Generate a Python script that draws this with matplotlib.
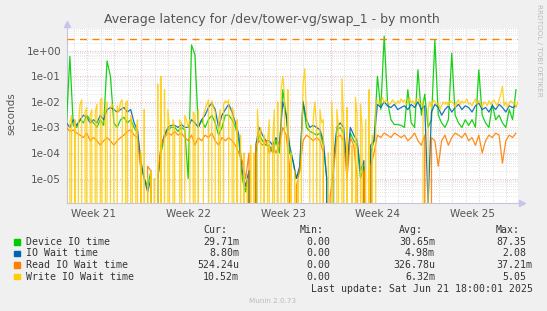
import numpy as np
import matplotlib
matplotlib.use("Agg")
import matplotlib.pyplot as plt
from matplotlib.patches import Rectangle

# Munin "by month" latency graph, values in seconds.
# device / io / read: one sample every 6 hours, write: one sample every 3 hours
device_io = [
    1.5e-3, 6e-1, 1.2e-3, 1e-3,   2e-3, 1.5e-3, 3e-3, 2e-3,   1.5e-3, 1e-3, 2e-3, 1.2e-3,
    4e-1, 1e-1, 1.5e-3, 1e-3,     2e-3, 2.5e-3, 1.5e-3, 2e-3, 1e-3, 6e-4, 3e-5, 1e-5,
    5e-6, 2e-5, 0, 1e-5,          1e-4, 5e-4, 8e-4, 1e-3,     1e-3, 7e-4, 1e-3, 8e-4,
    1e-5, 1.7, 7e-1, 1e-3,        2e-3, 1e-3, 2e-3, 3e-3,     1.5e-3, 5e-4, 1e-3, 3e-3,
    3e-3, 2e-3, 1e-3, 3e-4,       1e-5, 3e-6, 2e-5, 0,        1e-4, 5e-4, 3e-4, 2e-4,
    2e-4, 1e-4, 3e-4, 1e-4,       3e-2, 3e-3, 1e-4, 5e-5,     1e-5, 2e-5, 1e-2, 1e-3,
    7e-4, 6e-4, 5e-4, 6e-4,       2e-4, 1e-5, 0, 3e-5,        8e-4, 1e-3, 6e-4, 2e-5,
    6e-4, 3e-4, 2e-4, 1e-5,       3e-5, 0, 1e-4, 3e-4,        1e-1, 5e-3, 3.7, 1e-2,
    2e-3, 1.3e-3, 1.3e-3, 1.2e-3, 1e-3, 3e-2, 1.5e-3, 1e-3,   1.8e-1, 3e-3, 2e-2, 1e-3,
    2e-3, 2.7, 3e-3, 1.5e-3,      1e-3, 2e-3, 8e-1, 3e-3,     1.5e-3, 1e-3, 2e-3, 1.2e-3,
    2e-3, 1e-3, 1.8e-1, 3e-3,     1.5e-3, 1e-3, 8e-3, 2e-3,   3e-3, 1.5e-3, 1e-3, 5e-3,
    2e-3, 3e-2,
]
io_wait = [
    1.5e-3, 1e-3, 2e-3, 1.2e-3,   2e-3, 3e-3, 2.5e-3, 1.5e-3, 2e-3, 1.5e-3, 3e-3, 2e-3,
    5e-3, 6e-3, 5e-3, 4e-3,       5e-3, 6e-3, 4e-3, 5e-3,     1.5e-3, 8e-4, 5e-5, 1e-5,
    3e-6, 1e-5, 0, 1e-5,          2e-4, 5e-4, 1e-3, 1.2e-3,   1.2e-3, 1e-3, 1.3e-3, 1e-3,
    1e-3, 2e-3, 1.5e-3, 1e-3,     2e-3, 3e-3, 6e-3, 9e-3,     5e-3, 1e-3, 3e-3, 5e-3,
    8e-3, 4e-3, 1.5e-3, 5e-4,     2e-5, 5e-6, 2e-5, 0,        2e-4, 1e-3, 5e-4, 3e-4,
    3e-4, 2e-4, 4e-4, 2e-4,       1e-2, 3e-3, 2e-4, 5e-5,     1e-5, 3e-5, 1e-2, 2e-3,
    1e-3, 1.2e-3, 1e-3, 8e-4,     3e-4, 1e-5, 0, 5e-5,        1e-3, 1.5e-3, 1e-3, 3e-5,
    1e-3, 5e-4, 3e-4, 2e-5,       5e-5, 0, 2e-4, 3e-4,        8e-3, 6e-3, 1e-2, 7e-3,
    6e-3, 8e-3, 5e-3, 6e-3,       7e-3, 5e-3, 8e-3, 6e-3,     1e-2, 5e-3, 7e-3, 1e-6,
    4e-3, 8e-3, 6e-3, 3e-3,       5e-3, 7e-3, 4e-3, 6e-3,     8e-3, 5e-3, 7e-3, 6e-3,
    4e-3, 7e-3, 9e-3, 5e-3,       6e-3, 4e-3, 7e-3, 5e-3,     8e-3, 6e-3, 4e-3, 7e-3,
    6e-3, 7e-3,
]
read_wait = [
    1e-3, 7e-4, 8e-4, 6e-4,       5e-4, 4e-4, 6e-4, 3e-4,     4e-4, 3e-4, 2e-4, 3e-4,
    4e-4, 3e-4, 2e-4, 3e-4,       4e-4, 5e-4, 7e-4, 8e-4,     5e-4, 4e-4, 2e-5, 0,
    3e-5, 2e-5, 0, 1e-5,          2e-4, 4e-4, 6e-4, 5e-4,     7e-4, 5e-4, 6e-4, 4e-4,
    3e-4, 5e-4, 2e-4, 4e-4,       3e-4, 5e-4, 4e-4, 6e-4,     3e-4, 2e-4, 4e-4, 3e-4,
    4e-4, 3e-4, 2e-4, 1e-4,       5e-5, 1e-5, 1e-4, 0,        2e-4, 3e-4, 2e-4, 3e-4,
    1e-4, 2e-4, 1e-4, 2e-4,       1e-3, 5e-4, 3e-5, 0,        5e-6, 2e-5, 3e-4, 5e-4,
    4e-4, 3e-4, 4e-4, 3e-4,       1e-4, 0, 2e-6, 2e-5,        4e-4, 5e-4, 3e-4, 1e-5,
    4e-4, 2e-4, 1e-5, 0,          2e-5, 0, 3e-5, 1e-4,        5e-4, 4e-4, 6e-4, 5e-4,
    4e-4, 6e-4, 5e-4, 4e-4,       5e-4, 3e-4, 4e-4, 6e-4,     3e-4, 2e-4, 5e-4, 0,
    4e-4, 3e-4, 3e-5, 3e-4,       5e-4, 2e-4, 4e-4, 6e-4,     5e-4, 4e-4, 6e-4, 3e-4,
    4e-4, 2e-4, 5e-4, 1e-4,       3e-4, 5e-4, 4e-4, 6e-4,     5e-4, 4e-5, 3e-4, 5e-4,
    4e-4, 6e-4,
]
write_wait = [
    2e-3, 0, 1.5e-3, 3e-3, 0, 2e-3, 0, 1e-3,
    8e-3, 1.2e-2, 0, 4e-3, 6e-3, 0, 3e-3, 5e-3,
    0, 4e-3, 8e-3, 0, 1.2e-2, 1.4e-2, 0, 5e-3,
    1e-2, 0, 6e-3, 8e-3, 5e-3, 0, 7e-3, 4e-3,
    1e-2, 1.2e-2, 0, 9e-3, 1.1e-2, 0, 3e-3, 1e-3,
    0, 5e-4, 2e-3, 0, 1e-4, 0, 5e-3, 0,
    1e-5, 0, 2e-5, 0, 1e-5, 0, 5e-2, 0,
    1e-1, 0, 3e-2, 0, 5e-3, 1e-3, 0, 2e-3,
    1e-3, 0, 0, 2e-3, 1.5e-3, 0, 3e-3, 2e-3,
    1e-3, 2e-3, 0, 4e-3, 3e-3, 0, 5e-3, 0,
    0, 3e-3, 5e-3, 8e-3, 1.2e-2, 0, 1.1e-2, 6e-3,
    4e-3, 0, 2e-3, 5e-3, 0, 8e-3, 1.1e-2, 9e-3,
    1.2e-2, 0, 6e-3, 4e-3, 0, 2e-3, 0, 5e-4,
    0, 1e-4, 0, 1e-5, 0, 2e-4, 0, 1e-4,
    0, 5e-3, 3e-4, 1e-3, 0, 5e-4, 0, 3e-4,
    2e-3, 0, 3e-4, 5e-3, 0, 1e-2, 0, 3e-2,
    1e-1, 2e-2, 0, 3e-2, 0, 1e-4, 0, 2e-5,
    0, 1e-5, 0, 1e-4, 5e-2, 2e-1, 3e-3, 1e-3,
    8e-4, 0, 2e-3, 1e-2, 1e-3, 0, 5e-3, 1.5e-3,
    2e-3, 0, 0, 1e-4, 0, 1e-2, 3e-4, 0,
    5e-3, 1e-3, 0, 8e-2, 2e-3, 0, 6e-3, 0,
    0, 2e-4, 0, 1.5e-2, 3e-3, 0, 8e-3, 1e-3,
    0, 2e-3, 0, 3e-2, 0, 5e-4, 0, 1e-2,
    1.2e-2, 8e-3, 1e-2, 1.5e-2, 9e-3, 1.2e-2, 1e-2, 8e-3,
    9e-3, 1.2e-2, 1e-2, 8e-3, 1.1e-2, 9e-3, 1.3e-2, 1e-2,
    1.2e-2, 8e-3, 1e-2, 1.5e-2, 9e-3, 1.1e-2, 8e-3, 1.3e-2,
    1.3e-2, 9e-3, 8e-3, 1.1e-2, 0, 0, 5e-3, 1e-2,
    6e-3, 1.2e-2, 1e-2, 8e-3, 9e-3, 5e-3, 7e-3, 1e-2,
    8e-3, 1e-2, 7e-3, 1.1e-2, 1e-2, 9e-3, 6e-3, 1e-2,
    1.2e-2, 8e-3, 1.1e-2, 9e-3, 1e-2, 1.3e-2, 8e-3, 9e-3,
    7e-3, 1e-2, 1.3e-2, 8e-3, 1.1e-2, 9e-3, 6e-3, 1e-2,
    9e-3, 7e-3, 1.1e-2, 8e-3, 1e-2, 1.2e-2, 9e-3, 7e-3,
    1.2e-2, 2e-2, 4e-2, 7e-3, 1e-2, 6e-3, 9e-3, 1.1e-2,
    9e-3, 1e-2, 6e-3, 1e-2,
]
warn_level = 3.0

series_names = ["Device IO time", "IO Wait time", "Read IO Wait time", "Write IO Wait time"]
series_colors = ["#00CC00", "#0066B3", "#FF8000", "#FFCC00"]
cur_vals = ["29.71m", "8.80m", "524.24u", "10.52m"]
min_vals = ["0.00", "0.00", "0.00", "0.00"]
avg_vals = ["30.65m", "4.98m", "326.78u", "6.32m"]
max_vals = ["87.35", "2.08", "37.21m", "5.05"]

week_labels = ["Week 21", "Week 22", "Week 23", "Week 24", "Week 25"]
week_starts = [-1.47, 5.53, 12.53, 19.53, 26.53]
span_days = 33.4

W, H = 547, 311
fig = plt.figure(figsize=(W / 100, H / 100), dpi=100, facecolor="#F0F0F0")


def fx(px):
    return px / W


def fy(py):
    return 1 - py / H


ax = fig.add_axes([fx(66.5), fy(203.3), fx(518 - 66.5), (203.3 - 28) / H])
ax.set_facecolor("white")
ax.set_yscale("log", nonpositive="clip")
ax.set_xlim(0, span_days)
ax.set_ylim(10 ** -5.97, 10 ** 0.89)

# grid: daily / log-minor in grey, weeks / decades in red
for d in np.arange(0.53, span_days, 1.0):
    is_week = any(abs(d - w) < 0.01 for w in week_starts)
    if is_week:
        ax.axvline(d, color="#e89a9a", lw=0.6, ls=(0, (1, 2)), zorder=1)
    else:
        ax.axvline(d, color="#c8c8c8", lw=0.6, ls=(0, (1, 2)), zorder=1)
for e in range(-6, 1):
    ax.axhline(10.0 ** e, color="#e89a9a", lw=0.6, ls=(0, (1, 2)), zorder=1)
    for m in range(2, 10):
        ax.axhline(m * 10.0 ** e, color="#d0d0d0", lw=0.5, ls=(0, (1, 2)), zorder=1)

x6 = np.arange(len(device_io)) * 0.25
x3 = np.arange(len(write_wait)) * 0.125
ax.plot(x6, device_io, color=series_colors[0], lw=0.9, alpha=0.9, zorder=3)
ax.plot(x6, io_wait, color=series_colors[1], lw=0.9, alpha=0.9, zorder=3)
ax.plot(x6, read_wait, color=series_colors[2], lw=0.9, alpha=0.9, zorder=3)
ax.plot(x3, write_wait, color=series_colors[3], lw=0.9, alpha=0.85, zorder=3)

ax.axhline(warn_level, color="#FF8000", lw=1.0, ls=(0, (5, 4)), zorder=4)

for s in ["top", "right"]:
    ax.spines[s].set_visible(False)
for s in ["left", "bottom"]:
    ax.spines[s].set_color("#c4c4dc")
    ax.spines[s].set_linewidth(0.8)
ax.plot([0], [1.025], marker="^", ms=4, color="#c4c4ec", transform=ax.transAxes, clip_on=False)
ax.plot([1.008], [0], marker=">", ms=4, color="#c4c4ec", transform=ax.transAxes, clip_on=False)

ax.set_yticks([10.0 ** e for e in range(-5, 1)])
ax.set_yticklabels(["1e-05", "1e-04", "1e-03", "1e-02", "1e-01", "1e+00"])
ax.yaxis.set_minor_locator(plt.NullLocator())
ax.set_xticks([w + 3.5 for w in week_starts])
ax.set_xticklabels(week_labels)
ax.tick_params(axis="both", length=0, labelsize=7.5, labelcolor="#555555")
ax.tick_params(axis="x", pad=4)
ax.tick_params(axis="y", pad=4)

fig.text(fx(11), fy(114), "seconds", rotation=90, ha="center", va="center",
         fontsize=7.5, color="#555555")
fig.text(fx(272.3), fy(20), "Average latency for /dev/tower-vg/swap_1 - by month",
         ha="center", va="center", fontsize=9.0, color="#555555")
fig.text(fx(539), fy(4), "RRDTOOL / TOBI OETIKER", rotation=270, ha="center", va="top",
         fontsize=5.2, color="#bbbbbb")

# legend block (monospace, munin style)
mono = dict(family="DejaVu Sans Mono", fontsize=7.15, color="#333333")
char_w = 5.98
col_ends = [239, 336, 435, 532]
headers = ["Cur:", "Min:", "Avg:", "Max:"]
for h, ce in zip(headers, col_ends):
    fig.text(fx(ce - 2 * char_w), fy(230), h, ha="right", va="center", **mono)

row_y = [242, 253.5, 265, 276.5]
columns = [cur_vals, min_vals, avg_vals, max_vals]
for i, (name, col) in enumerate(zip(series_names, series_colors)):
    yy = row_y[i]
    fig.add_artist(Rectangle((fx(14), fy(yy + 2.8)), 5.5 / W, 5.5 / H,
                             transform=fig.transFigure, color=col))
    fig.text(fx(26.2), fy(yy), name, ha="left", va="center", **mono)
    for vals, ce in zip(columns, col_ends):
        v = vals[i]
        end = ce if v[-1].isalpha() else ce - char_w
        fig.text(fx(end), fy(yy), v, ha="right", va="center", **mono)

fig.text(fx(533), fy(288.5), "Last update: Sat Jun 21 18:00:01 2025", ha="right",
         va="center", **mono)
fig.text(fx(273), fy(301), "Munin 2.0.73", ha="center", va="center", fontsize=5.2,
         color="#bbbbbb")

fig.savefig("out.png", dpi=100, facecolor=fig.get_facecolor())
